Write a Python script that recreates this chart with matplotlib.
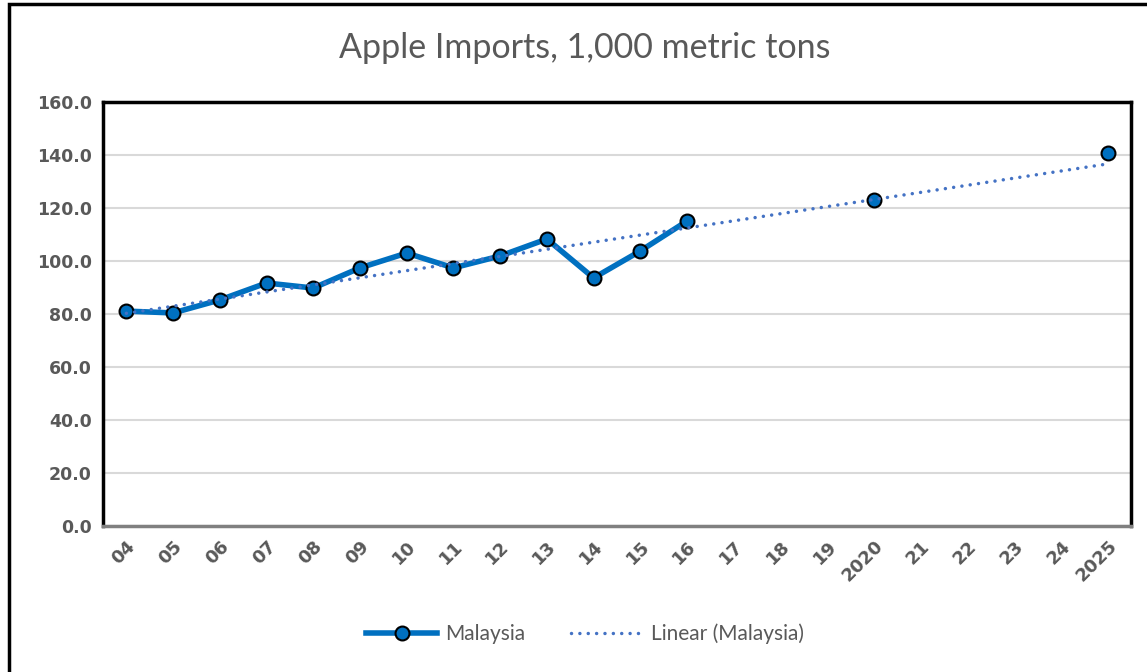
import matplotlib.pyplot as plt
import numpy as np
from matplotlib.patches import Rectangle

# Category labels along the x axis
labels = ['04', '05', '06', '07', '08', '09', '10', '11', '12', '13', '14',
          '15', '16', '17', '18', '19', '2020', '21', '22', '23', '24', '2025']

# Apple imports for Malaysia (1,000 metric tons); None = no value
imports = [81.1, 80.4, 85.3, 91.7, 89.8, 97.4, 103.0, 97.4, 101.9, 108.3,
           93.6, 103.8, 115.1, None, None, None, 123.0, None, None, None,
           None, 140.8]

x = np.arange(len(labels))
y = np.array([np.nan if v is None else v for v in imports])
have = ~np.isnan(y)

# Linear trend over the points that have a value
slope, intercept = np.polyfit(x[have], y[have], 1)
trend = slope * x + intercept

fig = plt.figure(figsize=(11.47, 6.72), dpi=100)
ax = fig.add_axes([103 / 1147, 1 - 526 / 672, 1028 / 1147, 424 / 672])

gray = '#595959'
plt.rcParams['font.family'] = ['Lato', 'DejaVu Sans']

# Outer chart frame
fig.patches.append(Rectangle((9 / 1147, -0.1), 1.2, 1 - 4 / 672 + 0.1,
                             transform=fig.transFigure, fill=False,
                             edgecolor='black', linewidth=2.5))

ax.grid(axis='y', color='#d9d9d9', linewidth=1.5)
ax.set_axisbelow(True)

# gaps (NaN) break the line, so 2020 and 2025 stand alone
ax.plot(x, y, color='#0070c0', linewidth=4, marker='o',
        markersize=10, markerfacecolor='#0070c0', markeredgecolor='black',
        markeredgewidth=1.5, label='Malaysia', zorder=3)
ax.plot(x, trend, color='#4472c4', linewidth=2.5, linestyle=(0, (0.01, 2.4)),
        dash_capstyle='round', label='Linear (Malaysia)', zorder=4)

ax.set_xlim(-0.5, len(labels) - 0.5)
ax.set_ylim(0, 160)
ax.set_yticks(np.arange(0, 161, 20))
ax.set_yticklabels([f'{v:.1f}' for v in np.arange(0, 161, 20)],
                   fontsize=12.5, fontweight='bold', color=gray)
ax.set_xticks(x)
ax.set_xticklabels(labels, rotation=45, ha='right', rotation_mode='anchor',
                   fontsize=13, fontweight='bold', color=gray)
ax.tick_params(axis='both', length=0, pad=8)

for side in ['left', 'top', 'right']:
    ax.spines[side].set_linewidth(2.5)
    ax.spines[side].set_color('black')
ax.spines['bottom'].set_linewidth(2.5)
ax.spines['bottom'].set_color('#808080')

fig.text(0.51, 1 - 48 / 672, 'Apple Imports, 1,000 metric tons',
         ha='center', va='center', fontsize=24.5, color=gray)

fig.legend(loc='center', bbox_to_anchor=(0.51, 1 - 634 / 672), ncol=2,
           frameon=False, fontsize=15, labelcolor=gray, handlelength=3.4,
           handletextpad=0.4, columnspacing=2.2)

fig.savefig('out.png', dpi=100)
